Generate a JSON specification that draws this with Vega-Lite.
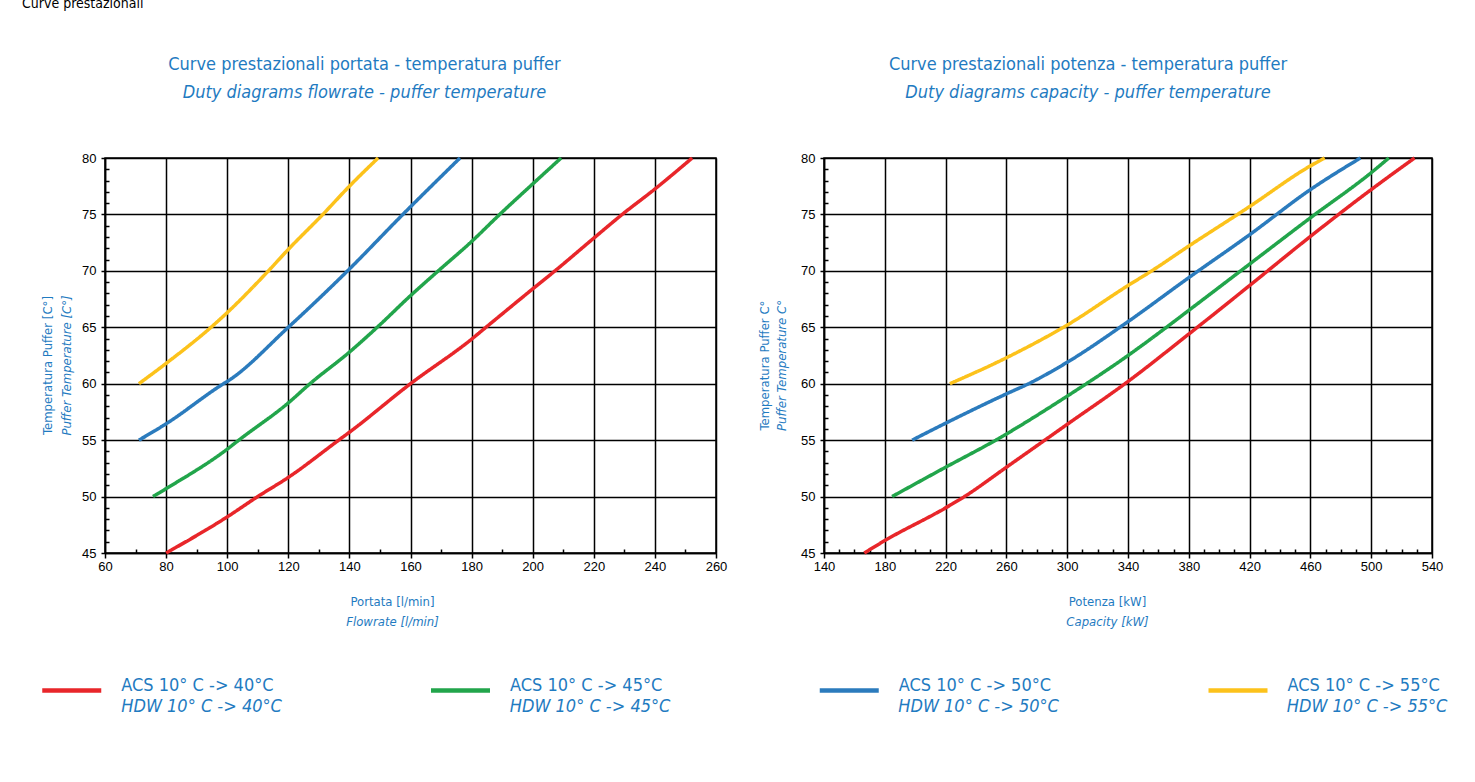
{
  "$schema": "https://vega.github.io/schema/vega-lite/v6.json",
  "background": "white",
  "padding": {"left": 22, "top": -4, "right": 0, "bottom": 0},
  "title": {"text": "Curve prestazionali", "anchor": "start", "frame": "group", "dx": -83, "offset": 44, "font": "Liberation Sans Narrow, DejaVu Sans Condensed, sans-serif", "fontSize": 14, "fontWeight": "normal", "color": "black"},
  "datasets": {
    "legend": [
      {"s": "40", "acs": "ACS 10° C  -> 40°C", "hdw": "HDW 10° C  -> 40°C"},
      {"s": "45", "acs": "ACS 10° C  -> 45°C", "hdw": "HDW 10° C  -> 45°C"},
      {"s": "50", "acs": "ACS 10° C  -> 50°C", "hdw": "HDW 10° C  -> 50°C"},
      {"s": "55", "acs": "ACS 10° C  -> 55°C", "hdw": "HDW 10° C  -> 55°C"}
    ],
    "curves": [
      {"c": "L", "s": "40", "x": 80, "t": 45},
      {"c": "L", "s": "40", "x": 100, "t": 48.2},
      {"c": "L", "s": "40", "x": 110, "t": 50},
      {"c": "L", "s": "40", "x": 120, "t": 51.7},
      {"c": "L", "s": "40", "x": 136.5, "t": 55},
      {"c": "L", "s": "40", "x": 140, "t": 55.7},
      {"c": "L", "s": "40", "x": 160, "t": 60},
      {"c": "L", "s": "40", "x": 180, "t": 63.95},
      {"c": "L", "s": "40", "x": 184.7, "t": 65},
      {"c": "L", "s": "40", "x": 200, "t": 68.4},
      {"c": "L", "s": "40", "x": 207.3, "t": 70},
      {"c": "L", "s": "40", "x": 220, "t": 72.9},
      {"c": "L", "s": "40", "x": 229.3, "t": 75},
      {"c": "L", "s": "40", "x": 240, "t": 77.25},
      {"c": "L", "s": "40", "x": 252.2, "t": 80},
      {"c": "L", "s": "45", "x": 75.7, "t": 50},
      {"c": "L", "s": "45", "x": 80, "t": 50.7},
      {"c": "L", "s": "45", "x": 100, "t": 54.2},
      {"c": "L", "s": "45", "x": 103.8, "t": 55},
      {"c": "L", "s": "45", "x": 120, "t": 58.3},
      {"c": "L", "s": "45", "x": 127.1, "t": 60},
      {"c": "L", "s": "45", "x": 140, "t": 62.8},
      {"c": "L", "s": "45", "x": 149.1, "t": 65},
      {"c": "L", "s": "45", "x": 160, "t": 67.8},
      {"c": "L", "s": "45", "x": 169.1, "t": 70},
      {"c": "L", "s": "45", "x": 180, "t": 72.6},
      {"c": "L", "s": "45", "x": 189.2, "t": 75},
      {"c": "L", "s": "45", "x": 200, "t": 77.7},
      {"c": "L", "s": "45", "x": 209.3, "t": 80},
      {"c": "L", "s": "50", "x": 71.1, "t": 55},
      {"c": "L", "s": "50", "x": 80, "t": 56.45},
      {"c": "L", "s": "50", "x": 98.8, "t": 60},
      {"c": "L", "s": "50", "x": 100, "t": 60.2},
      {"c": "L", "s": "50", "x": 120, "t": 65},
      {"c": "L", "s": "50", "x": 139.4, "t": 70},
      {"c": "L", "s": "50", "x": 157.5, "t": 75},
      {"c": "L", "s": "50", "x": 176.2, "t": 80},
      {"c": "L", "s": "55", "x": 71.1, "t": 60},
      {"c": "L", "s": "55", "x": 80, "t": 61.8},
      {"c": "L", "s": "55", "x": 94.7, "t": 65},
      {"c": "L", "s": "55", "x": 100, "t": 66.3},
      {"c": "L", "s": "55", "x": 113.5, "t": 70},
      {"c": "L", "s": "55", "x": 120, "t": 71.9},
      {"c": "L", "s": "55", "x": 131.3, "t": 75},
      {"c": "L", "s": "55", "x": 140, "t": 77.5},
      {"c": "L", "s": "55", "x": 149.4, "t": 80},
      {"c": "R", "s": "40", "x": 166.5, "t": 45},
      {"c": "R", "s": "40", "x": 180, "t": 46.1},
      {"c": "R", "s": "40", "x": 220, "t": 49.0},
      {"c": "R", "s": "40", "x": 232.4, "t": 50},
      {"c": "R", "s": "40", "x": 260, "t": 52.6},
      {"c": "R", "s": "40", "x": 300, "t": 56.4},
      {"c": "R", "s": "40", "x": 340, "t": 60.2},
      {"c": "R", "s": "40", "x": 380, "t": 64.4},
      {"c": "R", "s": "40", "x": 420, "t": 68.7},
      {"c": "R", "s": "40", "x": 460, "t": 73.05},
      {"c": "R", "s": "40", "x": 500, "t": 77.2},
      {"c": "R", "s": "40", "x": 528.5, "t": 80},
      {"c": "R", "s": "45", "x": 184.8, "t": 50},
      {"c": "R", "s": "45", "x": 220, "t": 52.6},
      {"c": "R", "s": "45", "x": 253, "t": 55},
      {"c": "R", "s": "45", "x": 300, "t": 58.9},
      {"c": "R", "s": "45", "x": 340, "t": 62.5},
      {"c": "R", "s": "45", "x": 365.3, "t": 65},
      {"c": "R", "s": "45", "x": 380, "t": 66.5},
      {"c": "R", "s": "45", "x": 420, "t": 70.6},
      {"c": "R", "s": "45", "x": 460, "t": 74.7},
      {"c": "R", "s": "45", "x": 500, "t": 78.7},
      {"c": "R", "s": "45", "x": 511.6, "t": 80},
      {"c": "R", "s": "50", "x": 198, "t": 55},
      {"c": "R", "s": "50", "x": 220, "t": 56.5},
      {"c": "R", "s": "50", "x": 260, "t": 59.1},
      {"c": "R", "s": "50", "x": 274.6, "t": 60},
      {"c": "R", "s": "50", "x": 300, "t": 61.9},
      {"c": "R", "s": "50", "x": 340, "t": 65.5},
      {"c": "R", "s": "50", "x": 380, "t": 69.4},
      {"c": "R", "s": "50", "x": 420, "t": 73.2},
      {"c": "R", "s": "50", "x": 460, "t": 77.2},
      {"c": "R", "s": "50", "x": 492.9, "t": 80},
      {"c": "R", "s": "55", "x": 222.8, "t": 60},
      {"c": "R", "s": "55", "x": 260, "t": 62.3},
      {"c": "R", "s": "55", "x": 300, "t": 65.2},
      {"c": "R", "s": "55", "x": 340, "t": 68.7},
      {"c": "R", "s": "55", "x": 355.6, "t": 70},
      {"c": "R", "s": "55", "x": 380, "t": 72.2},
      {"c": "R", "s": "55", "x": 412.1, "t": 75},
      {"c": "R", "s": "55", "x": 420, "t": 75.7},
      {"c": "R", "s": "55", "x": 460, "t": 79.3},
      {"c": "R", "s": "55", "x": 469.4, "t": 80}
    ]
  },
  "hconcat": [
    {
      "width": 611,
      "height": 395,
      "title": {"text": "Curve prestazionali portata - temperatura puffer", "subtitle": "Duty diagrams flowrate - puffer temperature", "dx": -46},
      "data": {"name": "curves"},
      "transform": [
        {"filter": "datum.c == 'L'"},
        {"lookup": "s", "from": {"data": {"name": "legend"}, "key": "s", "fields": ["acs", "hdw"]}}
      ],
      "layer": [
        {
          "mark": {"type": "line", "strokeWidth": 3.5, "interpolate": "monotone"},
          "encoding": {
            "x": {"field": "x", "type": "quantitative", "scale": {"domain": [60, 260], "nice": false, "zero": false},
              "axis": {"values": [60, 80, 100, 120, 140, 160, 180, 200, 220, 240, 260], "grid": true, "tickSize": 5, "labelPadding": 2, "labelFlush": false, "title": "Portata [l/min]", "titlePadding": 22.5, "titleX": 287}},
            "y": {"field": "t", "type": "quantitative", "scale": {"domain": [45, 80], "nice": false, "zero": false},
              "axis": {"values": [45, 50, 55, 60, 65, 70, 75, 80], "grid": true, "tickSize": 4, "labelPadding": 5, "title": "Temperatura  Puffer [C°]", "titlePadding": 27, "titleY": 207}},
            "color": {"field": "acs", "type": "nominal",
              "scale": {"range": ["#e8262a", "#22a54b", "#2b7bbd", "#fcc21b"]},
              "legend": {"orient": "none", "legendX": -65.25, "legendY": 500.5, "direction": "horizontal", "columns": 4, "columnPadding": 142.75, "symbolType": "stroke", "symbolSize": 3481, "symbolStrokeWidth": 4.5, "labelFont": "Liberation Sans Narrow, DejaVu Sans Condensed, sans-serif", "labelFontSize": 18, "labelColor": "#1f7bc1", "labelOffset": 17.5, "labelAlign": "left", "labelBaseline": "alphabetic", "labelLimit": 400, "title": null, "padding": 0}},
            "strokeDash": {"field": "hdw", "type": "nominal",
              "scale": {"range": [[1, 0], [1, 0], [1, 0], [1, 0]]},
              "legend": {"orient": "none", "legendX": -65.25, "legendY": 521.5, "direction": "horizontal", "columns": 4, "columnPadding": 140.5, "symbolType": "stroke", "symbolSize": 3481, "symbolStrokeWidth": 4.5, "symbolOpacity": 0, "labelFont": "Liberation Sans Narrow, DejaVu Sans Condensed, sans-serif", "labelFontSize": 18, "labelFontStyle": "italic", "labelColor": "#1f7bc1", "labelOffset": 17.5, "labelAlign": "left", "labelBaseline": "alphabetic", "labelLimit": 400, "title": null, "padding": 0}}
          }
        },
        {
          "mark": {"type": "point", "opacity": 0},
          "encoding": {
            "x": {"field": "x", "type": "quantitative",
              "axis": {"orient": "bottom", "values": [70, 90, 110, 130, 150, 170, 190, 210, 230, 250], "grid": false, "domain": false, "labels": false, "tickSize": -4, "title": "Flowrate [l/min]", "titleFontStyle": "italic", "titlePadding": 61.5, "titleX": 287}},
            "y": {"field": "t", "type": "quantitative",
              "axis": {"orient": "left", "values": [46, 47, 48, 49, 51, 52, 53, 54, 56, 57, 58, 59, 61, 62, 63, 64, 66, 67, 68, 69, 71, 72, 73, 74, 76, 77, 78, 79], "grid": false, "domain": false, "labels": false, "tickSize": -4, "title": "Puffer Temperature [C°]", "titleFontStyle": "italic", "titlePadding": 31, "titleY": 207}}
          }
        }
      ],
      "resolve": {"axis": {"x": "independent", "y": "independent"}}
    },
    {
      "width": 608,
      "height": 395,
      "title": {"text": "Curve prestazionali potenza - temperatura puffer", "subtitle": "Duty diagrams capacity - puffer temperature", "dx": -40},
      "data": {"name": "curves"},
      "transform": [
        {"filter": "datum.c == 'R'"},
        {"lookup": "s", "from": {"data": {"name": "legend"}, "key": "s", "fields": ["acs", "hdw"]}}
      ],
      "layer": [
        {
          "mark": {"type": "line", "strokeWidth": 3.5, "interpolate": "monotone"},
          "encoding": {
            "x": {"field": "x", "type": "quantitative", "scale": {"domain": [140, 540], "nice": false, "zero": false},
              "axis": {"values": [140, 180, 220, 260, 300, 340, 380, 420, 460, 500, 540], "grid": true, "tickSize": 5, "labelPadding": 2, "labelFlush": false, "title": "Potenza [kW]", "titlePadding": 22.5, "titleX": 283}},
            "y": {"field": "t", "type": "quantitative", "scale": {"domain": [45, 80], "nice": false, "zero": false},
              "axis": {"values": [45, 50, 55, 60, 65, 70, 75, 80], "grid": true, "tickSize": 4, "labelPadding": 5, "title": "Temperatura  Puffer C°", "titlePadding": 29, "titleY": 207}},
            "color": {"field": "acs", "type": "nominal",
              "scale": {"range": ["#e8262a", "#22a54b", "#2b7bbd", "#fcc21b"]},
              "legend": {"orient": "none", "legendX": -65.25, "legendY": 500.5, "direction": "horizontal", "columns": 4, "columnPadding": 142.75, "symbolType": "stroke", "symbolSize": 3481, "symbolStrokeWidth": 4.5, "labelFont": "Liberation Sans Narrow, DejaVu Sans Condensed, sans-serif", "labelFontSize": 18, "labelColor": "#1f7bc1", "labelOffset": 17.5, "labelAlign": "left", "labelBaseline": "alphabetic", "labelLimit": 400, "title": null, "padding": 0}},
            "strokeDash": {"field": "hdw", "type": "nominal",
              "scale": {"range": [[1, 0], [1, 0], [1, 0], [1, 0]]},
              "legend": {"orient": "none", "legendX": -65.25, "legendY": 521.5, "direction": "horizontal", "columns": 4, "columnPadding": 140.5, "symbolType": "stroke", "symbolSize": 3481, "symbolStrokeWidth": 4.5, "symbolOpacity": 0, "labelFont": "Liberation Sans Narrow, DejaVu Sans Condensed, sans-serif", "labelFontSize": 18, "labelFontStyle": "italic", "labelColor": "#1f7bc1", "labelOffset": 17.5, "labelAlign": "left", "labelBaseline": "alphabetic", "labelLimit": 400, "title": null, "padding": 0}}
          }
        },
        {
          "mark": {"type": "point", "opacity": 0},
          "encoding": {
            "x": {"field": "x", "type": "quantitative",
              "axis": {"orient": "bottom", "values": [150, 160, 170, 190, 200, 210, 230, 240, 250, 270, 280, 290, 310, 320, 330, 350, 360, 370, 390, 400, 410, 430, 440, 450, 470, 480, 490, 510, 520, 530], "grid": false, "domain": false, "labels": false, "tickSize": -4, "title": "Capacity [kW]", "titleFontStyle": "italic", "titlePadding": 61.5, "titleX": 283}},
            "y": {"field": "t", "type": "quantitative",
              "axis": {"orient": "left", "values": [46, 47, 48, 49, 51, 52, 53, 54, 56, 57, 58, 59, 61, 62, 63, 64, 66, 67, 68, 69, 71, 72, 73, 74, 76, 77, 78, 79], "grid": false, "domain": false, "labels": false, "tickSize": -4, "title": "Puffer Temperature C°", "titleFontStyle": "italic", "titlePadding": 35, "titleY": 207}}
          }
        }
      ],
      "resolve": {"axis": {"x": "independent", "y": "independent"}}
    }
  ],
  "spacing": 108,
  "bounds": "flush",
  "resolve": {"scale": {"color": "shared", "strokeDash": "shared"}, "legend": {"color": "shared", "strokeDash": "shared"}},
  "config": {
    "view": {"stroke": "black", "strokeWidth": 1.5},
    "axis": {"domainColor": "black", "domainWidth": 1.5, "tickColor": "black", "tickWidth": 1.5, "gridColor": "black", "gridOpacity": 1, "gridWidth": 1.5, "labelFont": "Liberation Sans, Arial, sans-serif", "labelFontSize": 13, "labelColor": "black", "titleFont": "Liberation Sans Narrow, DejaVu Sans Condensed, sans-serif", "titleFontSize": 13, "titleFontWeight": "normal", "titleColor": "#1f7bc1"},
    "title": {"font": "Liberation Sans Narrow, DejaVu Sans Condensed, sans-serif", "fontSize": 18, "fontWeight": "normal", "color": "#1f7bc1", "subtitleFont": "Liberation Sans Narrow, DejaVu Sans Condensed, sans-serif", "subtitleFontSize": 18, "subtitleFontStyle": "italic", "subtitleColor": "#1f7bc1", "subtitlePadding": 10, "offset": 49.5, "anchor": "middle"}
  }
}
